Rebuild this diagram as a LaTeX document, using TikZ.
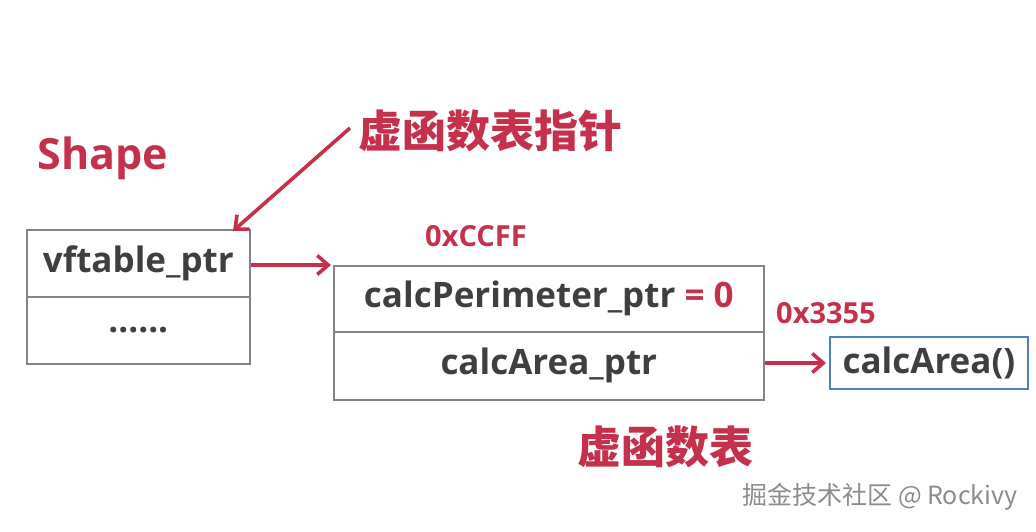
\documentclass[tikz,border=0pt]{standalone}
\usepackage{fontspec}
\setmainfont{Open Sans}
\newfontfamily\cjk{Noto Sans CJK SC}
\usetikzlibrary{arrows.meta}
\definecolor{myred}{HTML}{C5304B}
\definecolor{mytext}{HTML}{3F3F3F}
\definecolor{myborder}{HTML}{858585}
\definecolor{myblue}{HTML}{4F7FBF}
\definecolor{mywm}{HTML}{8C8C8C}
\tikzset{
  cell/.style={draw=myborder, line width=1.6pt, minimum height=67pt, inner sep=0pt, text=mytext, font=\fontsize{35}{35}\selectfont\bfseries},
  redlbl/.style={text=myred, font=\fontsize{29}{29}\selectfont\bfseries, inner sep=0pt},
  bigcjk/.style={text=myred, font=\cjk\fontsize{44}{44}\selectfont\bfseries, inner sep=0pt},
  redarrow/.style={draw=myred, line width=3.6pt, -{Straight Barb[length=11pt,width=19pt,line width=3.6pt]}},
}
\begin{document}
\begin{tikzpicture}[x=1pt,y=-1pt]
\useasboundingbox[fill=white] (0,0) rectangle (1036,531);
% left box
\node[cell, minimum width=223pt, anchor=north west] (vf) at (26,229) {vftable\_ptr};
\node[cell, minimum width=223pt, anchor=north west] (dots) at (26,296) {......};
% middle box
\node[cell, minimum width=430pt, minimum height=66pt, anchor=north west] (per) at (333,265) {calcPerimeter\_ptr {\color{myred}= 0}};
\node[cell, minimum width=430pt, minimum height=68pt, anchor=north west] (area) at (333,331) {calcArea\_ptr};
% function box
\node[draw=myblue, line width=1.8pt, minimum width=198pt, minimum height=52pt, inner sep=0pt, anchor=north west, text=mytext, font=\fontsize{35}{35}\selectfont\bfseries] (fn) at (829,336) {calcArea()};
% labels
\node[text=myred, font=\fontsize{43}{43}\selectfont\bfseries, inner sep=0pt] (shape) at (103,158) {Shape};
\node[bigcjk] (vptr) at (490,131) {虚函数表指针};
\node[bigcjk] (vtbl) at (665,447) {虚函数表};
\node[redlbl] (ccff) at (476,236) {0xCCFF};
\node[redlbl] (x3355) at (826,313) {0x3355};
\node[text=mywm, font=\cjk\fontsize{25}{25}\selectfont, inner sep=0pt] (wm) at (880,497) {掘金技术社区 @ Rockivy};
% arrows
\coordinate (a1s) at (350,128);
\coordinate (a1e) at (233,231);
\coordinate (a2s) at (251,265);
\coordinate (a2e) at (331,265);
\coordinate (a3s) at (765,363);
\coordinate (a3e) at (826,363);
\draw[redarrow] (a1s) -- (a1e);
\draw[redarrow] (a2s) -- (a2e);
\draw[redarrow] (a3s) -- (a3e);
\end{tikzpicture}
\end{document}
